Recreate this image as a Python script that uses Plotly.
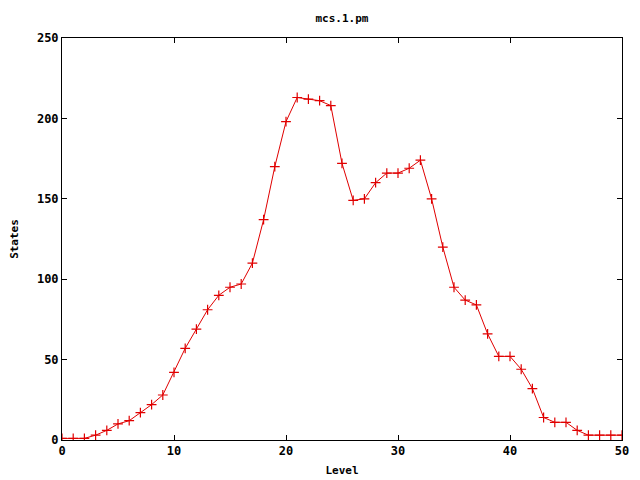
import plotly.graph_objects as go

levels = list(range(0, 51))
states = [1, 1, 1, 3, 6, 10, 12, 17, 22, 28,
          42, 57, 69, 81, 90, 95, 97, 110, 137, 170,
          198, 213, 212, 211, 208, 172, 149, 150, 160, 166,
          166, 169, 174, 150, 120, 95, 87, 84, 66, 52,
          52, 44, 32, 14, 11, 11, 6, 3, 3, 3, 3]

x_ticks = [0, 10, 20, 30, 40, 50]
y_ticks = [0, 50, 100, 150, 200, 250]

font = dict(family="DejaVu Sans Mono", size=11, color="black")

fig = go.Figure()
fig.add_trace(go.Scatter(
    x=levels, y=states, mode="lines+markers",
    line=dict(color="#e00000", width=1),
    marker=dict(symbol="cross-thin", size=7, line=dict(color="#e00000", width=1.2)),
    showlegend=False,
))

axis_common = dict(
    showline=True, linecolor="black", linewidth=1, mirror="ticks",
    ticks="inside", ticklen=5, tickcolor="black", tickwidth=1,
    showgrid=False, zeroline=False, automargin=False,
    tickfont=dict(family="DejaVu Sans Mono", size=12, color="black", weight="bold"),
)

# page body has an 8px default margin, so the figure is 632x472 and offset
fig.update_layout(
    width=632, height=472,
    paper_bgcolor="white", plot_bgcolor="white",
    margin=dict(l=54, r=18, t=30, b=40, autoexpand=False),
    title=dict(text="<b>mcs.1.pm</b>", x=0.5, xref="paper", xanchor="center",
               y=1 - 10 / 472, yanchor="middle", automargin=False,
               font=dict(family="DejaVu Sans Mono", size=11, color="black")),
    xaxis=dict(range=[0, 50], tickvals=x_ticks, ticktext=[str(v) for v in x_ticks],
               title=dict(text="<b>Level</b>", font=font, standoff=8), **axis_common),
    yaxis=dict(range=[0, 250], tickvals=y_ticks, ticktext=[str(v) for v in y_ticks],
               title=dict(text="<b>States</b>", font=font, standoff=17), **axis_common),
)

fig.write_html("out.html")
